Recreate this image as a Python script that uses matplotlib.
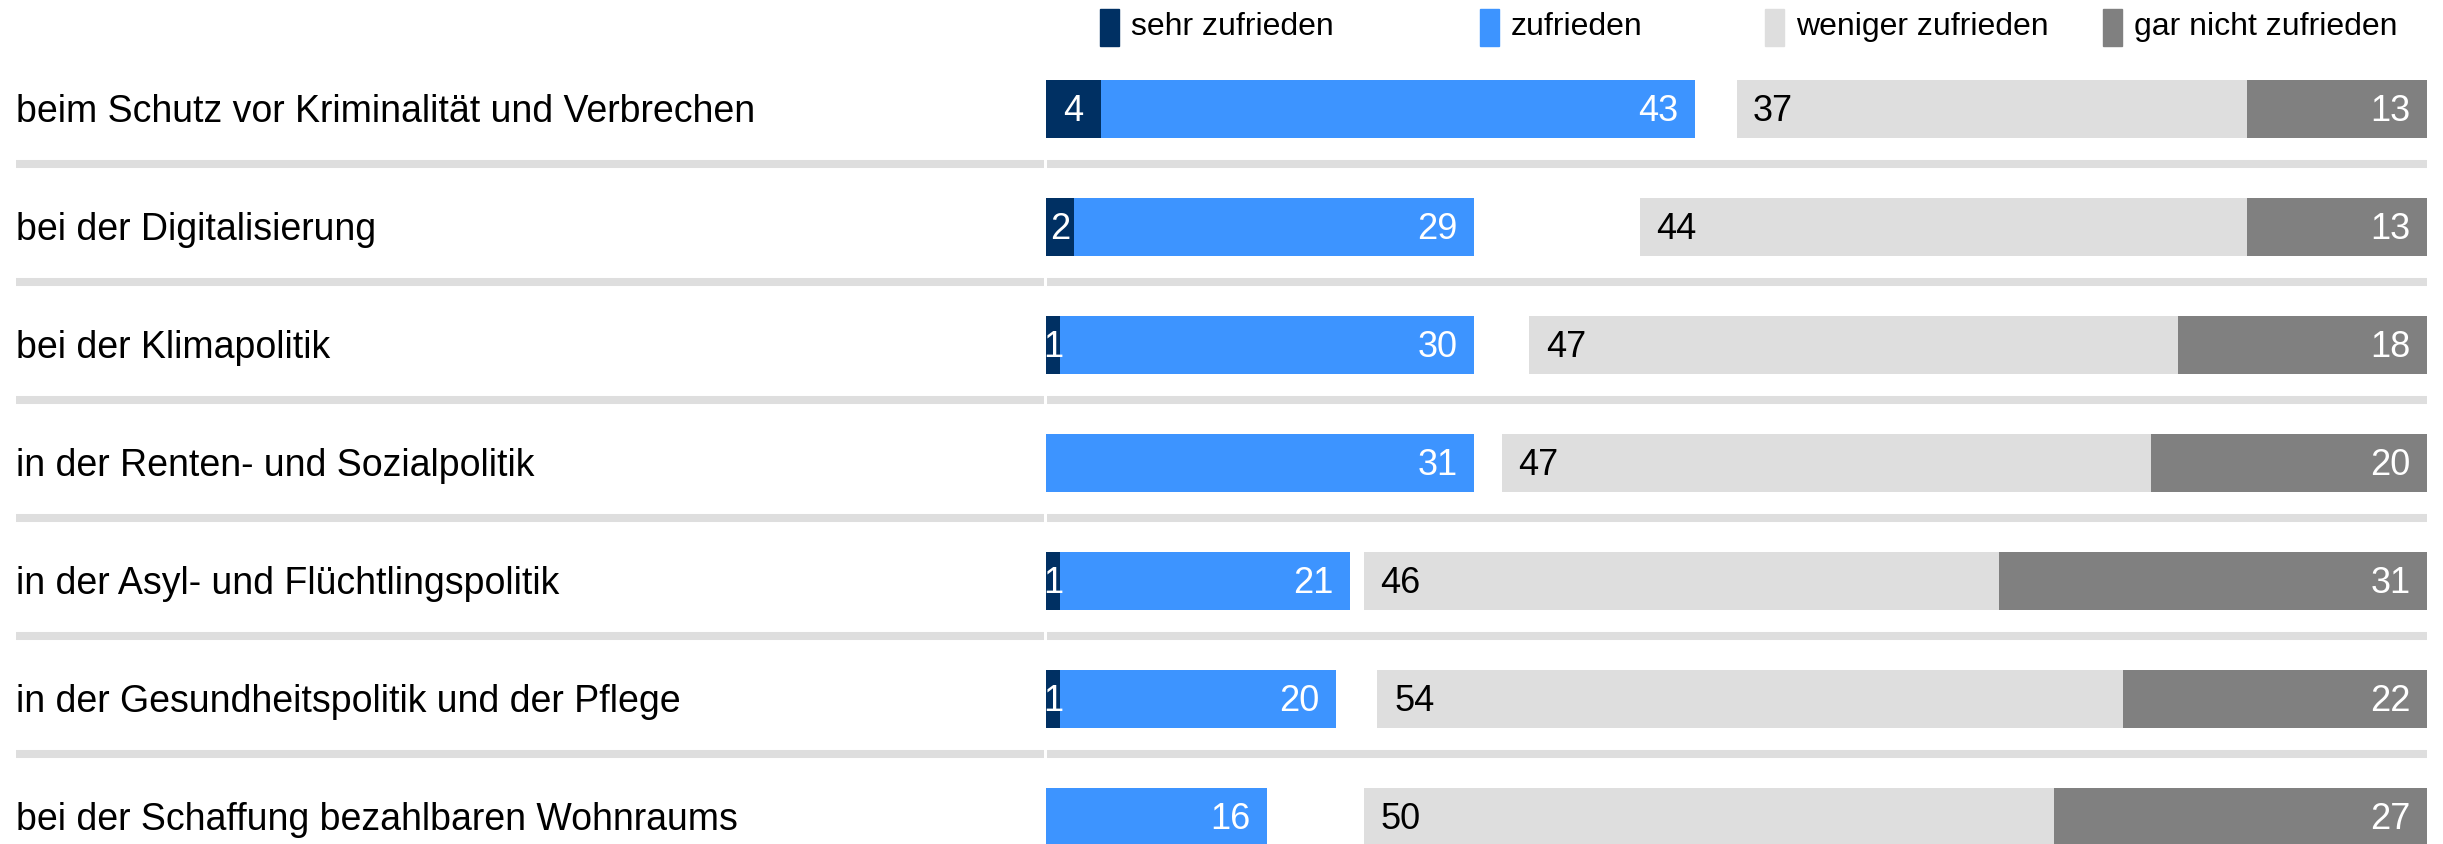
import matplotlib.pyplot as plt
from matplotlib.patches import Rectangle

plt.rcParams['font.family'] = ['Liberation Sans', 'DejaVu Sans']

categories = [
    'beim Schutz vor Kriminalität und Verbrechen',
    'bei der Digitalisierung',
    'bei der Klimapolitik',
    'in der Renten- und Sozialpolitik',
    'in der Asyl- und Flüchtlingspolitik',
    'in der Gesundheitspolitik und der Pflege',
    'bei der Schaffung bezahlbaren Wohnraums',
]
sehr_zufrieden = [4, 2, 1, 0, 1, 1, 0]
zufrieden = [43, 29, 30, 31, 21, 20, 16]
weniger_zufrieden = [37, 44, 47, 47, 46, 54, 50]
gar_nicht_zufrieden = [13, 13, 18, 20, 31, 22, 27]
legend_labels = ['sehr zufrieden', 'zufrieden', 'weniger zufrieden', 'gar nicht zufrieden']

c_sehr = '#003063'
c_zuf = '#3d94ff'
c_wen = '#dedede'
c_gar = '#808080'
colors = [c_sehr, c_zuf, c_wen, c_gar]

W, H = 2443, 844
x0_px, px_per_unit = 1046, 13.81
row0_px, row_px = 109, 118

fig = plt.figure(figsize=(W / 100, H / 100), dpi=100)
ax = fig.add_axes([0, 0, 1, 1])
ax.set_xlim(-x0_px / px_per_unit, (W - x0_px) / px_per_unit)
ax.set_ylim((H - row0_px) / row_px, -row0_px / row_px)
ax.axis('off')

n = len(categories)
y = list(range(n))
bh = 0.49
fs = 26
dy = 0.025  # text sits a touch lower than bar centre

right_start = [100 - w - g for w, g in zip(weniger_zufrieden, gar_nicht_zufrieden)]
ax.barh(y, sehr_zufrieden, left=0, height=bh, color=c_sehr)
ax.barh(y, zufrieden, left=sehr_zufrieden, height=bh, color=c_zuf)
ax.barh(y, weniger_zufrieden, left=right_start, height=bh, color=c_wen)
ax.barh(y, gar_nicht_zufrieden, left=[100 - g for g in gar_nicht_zufrieden], height=bh, color=c_gar)

pad = 1.2
for i in range(n):
    s, z, w, g = sehr_zufrieden[i], zufrieden[i], weniger_zufrieden[i], gar_nicht_zufrieden[i]
    yt = i + dy
    if s > 0:
        ax.text(s / 2, yt, str(s), ha='center', va='center', color='white', fontsize=fs)
    ax.text(s + z - pad, yt, str(z), ha='right', va='center', color='white', fontsize=fs)
    ax.text(right_start[i] + pad, yt, str(w), ha='left', va='center', color='black', fontsize=fs)
    ax.text(100 - pad, yt, str(g), ha='right', va='center', color='white', fontsize=fs)
    ax.text(16 / W, yt, categories[i], ha='left', va='center', fontsize=27,
            transform=ax.get_yaxis_transform())

# separators between rows
sep_left = (16 - x0_px) / px_per_unit
sep_mid = -2.5 / px_per_unit
for i in range(n - 1):
    ys = i + 0.47
    ax.hlines(ys, sep_left, sep_mid, color='#dedede', linewidth=5.8, capstyle='butt')
    ax.hlines(ys, 0.05, 100, color='#dedede', linewidth=5.8, capstyle='butt')

# legend
patch_x = [1100, 1480, 1765, 2103]
for px, lab, col in zip(patch_x, legend_labels, colors):
    fig.add_artist(Rectangle((px / W, 1 - 46 / H), 19 / W, 37 / H,
                             transform=fig.transFigure, color=col))
    fig.text((px + 31) / W, 1 - 27 / H, lab, ha='left', va='center', fontsize=23)

fig.savefig('out.png', dpi=100)
